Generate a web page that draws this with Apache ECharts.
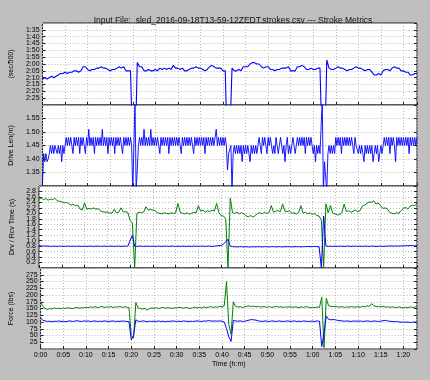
<!DOCTYPE html>
<html><head><meta charset="utf-8">
<script src="https://cdn.jsdelivr.net/npm/echarts@6/dist/echarts.min.js"></script>
<style>html,body{margin:0;padding:0;background:#bfbfbf}#c{width:430px;height:380px}</style>
</head><body><div id="c"></div>
<script>
// time of each sample (minutes)
const times = [
0,0.5,1,1.5,2,2.5,3,3.5,4,4.5, 5,5.5,6,6.5,7,7.5,8,8.5,9,9.5,
10,10.5,11,11.5,12,12.5,13,13.5,14,14.5, 15,15.5,16,16.5,17,17.5,18,18.5,19,19.5,
20,20.5,21,21.5,22,22.5,23,23.5,24,24.5, 25,25.5,26,26.5,27,27.5,28,28.5,29,29.5,
30,30.5,31,31.5,32,32.5,33,33.5,34,34.5, 35,35.5,36,36.5,37,37.5,38,38.5,39,39.5,
40,40.5,41,41.5,42,42.5,43,43.5,44,44.5, 45,45.5,46,46.5,47,47.5,48,48.5,49,49.5,
50,50.5,51,51.5,52,52.5,53,53.5,54,54.5, 55,55.5,56,56.5,57,57.5,58,58.5,59,59.5,
60,60.5,61,61.5,62,62.5,63,63.5,64,64.5, 65,65.5,66,66.5,67,67.5,68,68.5,69,69.5,
70,70.5,71,71.5,72,72.5,73,73.5,74,74.5, 75,75.5,76,76.5,77,77.5,78,78.5,79,79.5,
80,80.5,81,81.5,82,82.5,83];

// finer time grid used for the drive-length trace (minutes)
const timesFine = [
0,0.25,0.5,0.75,1,1.25,1.5,1.75,2,2.25,2.5,2.75,3,3.25,3.5,3.75,4,4.25,4.5,4.75,
5,5.25,5.5,5.75,6,6.25,6.5,6.75,7,7.25,7.5,7.75,8,8.25,8.5,8.75,9,9.25,9.5,9.75,
10,10.25,10.5,10.75,11,11.25,11.5,11.75,12,12.25,12.5,12.75,13,13.25,13.5,13.75,14,14.25,14.5,14.75,
15,15.25,15.5,15.75,16,16.25,16.5,16.75,17,17.25,17.5,17.75,18,18.25,18.5,18.75,19,19.25,19.5,19.75,
20,20.25,20.5,20.75,21,21.25,21.5,21.75,22,22.25,22.5,22.75,23,23.25,23.5,23.75,24,24.25,24.5,24.75,
25,25.25,25.5,25.75,26,26.25,26.5,26.75,27,27.25,27.5,27.75,28,28.25,28.5,28.75,29,29.25,29.5,29.75,
30,30.25,30.5,30.75,31,31.25,31.5,31.75,32,32.25,32.5,32.75,33,33.25,33.5,33.75,34,34.25,34.5,34.75,
35,35.25,35.5,35.75,36,36.25,36.5,36.75,37,37.25,37.5,37.75,38,38.25,38.5,38.75,39,39.25,39.5,39.75,
40,40.25,40.5,40.75,41,41.25,41.5,41.75,42,42.25,42.5,42.75,43,43.25,43.5,43.75,44,44.25,44.5,44.75,
45,45.25,45.5,45.75,46,46.25,46.5,46.75,47,47.25,47.5,47.75,48,48.25,48.5,48.75,49,49.25,49.5,49.75,
50,50.25,50.5,50.75,51,51.25,51.5,51.75,52,52.25,52.5,52.75,53,53.25,53.5,53.75,54,54.25,54.5,54.75,
55,55.25,55.5,55.75,56,56.25,56.5,56.75,57,57.25,57.5,57.75,58,58.25,58.5,58.75,59,59.25,59.5,59.75,
60,60.25,60.5,60.75,61,61.25,61.5,61.75,62,62.25,62.5,62.75,63,63.25,63.5,63.75,64,64.25,64.5,64.75,
65,65.25,65.5,65.75,66,66.25,66.5,66.75,67,67.25,67.5,67.75,68,68.25,68.5,68.75,69,69.25,69.5,69.75,
70,70.25,70.5,70.75,71,71.25,71.5,71.75,72,72.25,72.5,72.75,73,73.25,73.5,73.75,74,74.25,74.5,74.75,
75,75.25,75.5,75.75,76,76.25,76.5,76.75,77,77.25,77.5,77.75,78,78.25,78.5,78.75,79,79.25,79.5,79.75,
80,80.25,80.5,80.75,81,81.25,81.5,81.75,82,82.25,82.5,82.75,83];

// pace, seconds per 500 m
const pace = [
131,130,131,130,129,130,129,128,127,127, 126,127,126,126,125,125,126,125,122,122,
124,125,124,124,123,123,122,123,123,124, 125,124,124,123,122,123,122,125,125,125,
185,190,119,122,122,125,125,124,125,125, 124,125,123,124,123,124,123,124,121,123,
123,124,123,125,125,124,123,123,122,123, 123,124,125,124,122,121,122,123,123,123,
125,125,190,175,123,125,125,124,125,122, 122,122,120,119,119,120,120,122,123,122,
122,124,124,125,124,124,123,123,123,122, 125,125,125,122,122,121,122,124,124,123,
124,124,123,123,185,195,117,123,124,124, 123,122,123,123,124,125,124,124,123,122,
123,123,124,125,124,124,126,128,128,127, 128,125,124,124,125,123,122,123,123,125,
125,126,126,128,128,127,127];

// drive length, m (on timesFine)
const driveLen = [
1.31,1.42,1.39,1.42,1.39,1.40,1.42,1.45,1.42,1.45,1.42,1.45,1.45,1.42,1.45,1.42,1.45,1.39,1.45,1.42,
1.45,1.48,1.45,1.48,1.45,1.48,1.45,1.42,1.48,1.45,1.48,1.45,1.48,1.42,1.48,1.45,1.48,1.45,1.42,1.48,
1.45,1.51,1.45,1.48,1.45,1.48,1.42,1.48,1.45,1.48,1.45,1.48,1.45,1.51,1.45,1.48,1.45,1.48,1.42,1.48,
1.45,1.48,1.45,1.48,1.42,1.48,1.45,1.48,1.45,1.48,1.45,1.42,1.48,1.45,1.48,1.45,1.48,1.45,1.48,1.45,
1.28,1.28,1.62,1.28,1.36,1.45,1.48,1.45,1.48,1.45,1.51,1.45,1.48,1.45,1.48,1.45,1.51,1.45,1.48,1.45,
1.48,1.45,1.48,1.45,1.42,1.48,1.45,1.48,1.45,1.48,1.45,1.48,1.42,1.48,1.45,1.48,1.45,1.48,1.45,1.48,
1.45,1.48,1.45,1.42,1.48,1.45,1.48,1.45,1.48,1.45,1.48,1.45,1.48,1.45,1.42,1.48,1.45,1.48,1.45,1.48,
1.45,1.48,1.45,1.48,1.42,1.48,1.45,1.48,1.45,1.48,1.45,1.48,1.45,1.48,1.51,1.45,1.48,1.45,1.48,1.45,
1.48,1.45,1.48,1.45,1.36,1.42,1.42,1.45,1.28,1.42,1.45,1.42,1.45,1.42,1.45,1.42,1.45,1.39,1.45,1.42,
1.45,1.42,1.45,1.42,1.39,1.45,1.42,1.45,1.42,1.45,1.42,1.45,1.48,1.45,1.42,1.48,1.45,1.48,1.45,1.42,
1.48,1.45,1.48,1.45,1.42,1.45,1.42,1.48,1.45,1.42,1.45,1.48,1.45,1.42,1.45,1.39,1.45,1.48,1.42,1.45,
1.42,1.45,1.48,1.45,1.42,1.45,1.48,1.45,1.48,1.45,1.48,1.45,1.48,1.42,1.48,1.45,1.48,1.45,1.48,1.45,
1.42,1.45,1.39,1.45,1.42,1.45,1.42,1.42,1.62,1.28,1.39,1.39,1.28,1.42,1.45,1.42,1.45,1.42,1.45,1.42,
1.48,1.45,1.48,1.45,1.48,1.42,1.48,1.45,1.48,1.45,1.48,1.45,1.48,1.45,1.48,1.45,1.42,1.48,1.45,1.45,
1.42,1.45,1.42,1.45,1.42,1.39,1.45,1.42,1.45,1.42,1.45,1.42,1.45,1.39,1.42,1.45,1.42,1.45,1.39,1.42,
1.45,1.42,1.45,1.48,1.45,1.48,1.45,1.48,1.42,1.48,1.45,1.48,1.45,1.39,1.48,1.45,1.48,1.45,1.48,1.45,
1.48,1.45,1.48,1.45,1.48,1.42,1.48,1.45,1.48,1.45,1.48,1.45,1.48];

// drive time, s
const driveTime = [
0.82,0.80,0.81,0.80,0.80,0.79,0.80,0.80,0.79,0.80, 0.80,0.79,0.80,0.80,0.79,0.80,0.79,0.80,0.80,0.79,
0.80,0.79,0.80,0.80,0.79,0.80,0.80,0.79,0.80,0.80, 0.79,0.80,0.80,0.79,0.80,0.80,0.79,0.80,0.80,0.80,
1.00,1.20,0.80,0.79,0.80,0.80,0.79,0.80,0.80,0.79, 0.80,0.79,0.80,0.80,0.79,0.80,0.80,0.79,0.80,0.80,
0.79,0.80,0.79,0.80,0.80,0.79,0.80,0.79,0.80,0.80, 0.79,0.80,0.80,0.79,0.80,0.80,0.79,0.80,0.81,0.82,
0.82,0.88,0.95,1.05,0.80,0.78,0.78,0.77,0.78,0.78, 0.77,0.78,0.77,0.77,0.78,0.77,0.78,0.78,0.77,0.78,
0.78,0.77,0.78,0.78,0.77,0.78,0.78,0.77,0.78,0.78, 0.78,0.77,0.78,0.78,0.78,0.77,0.78,0.78,0.79,0.78,
0.78,0.79,0.78,0.78,0.00,1.90,0.80,0.79,0.80,0.79, 0.80,0.79,0.80,0.80,0.79,0.80,0.80,0.79,0.80,0.80,
0.79,0.80,0.79,0.80,0.80,0.79,0.80,0.80,0.79,0.80, 0.80,0.79,0.80,0.80,0.81,0.80,0.80,0.81,0.80,0.81,
0.81,0.82,0.81,0.82,0.82,0.81,0.82];

// recovery time, s
const recoveryTime = [
2.52,2.56,2.50,2.54,2.48,2.52,2.50,2.55,2.46,2.44, 2.42,2.38,2.40,2.36,2.30,2.33,2.28,2.30,2.16,2.12,
2.38,2.15,2.18,2.16,2.20,2.15,2.17,2.08,2.06,2.04, 2.05,2.02,2.00,2.14,2.02,2.04,2.20,2.05,2.06,2.03,
1.75,1.65,0.00,2.00,2.04,2.02,2.05,2.24,2.12,2.14, 2.12,2.10,2.02,2.00,1.98,2.02,2.00,1.98,2.02,2.00,
2.02,2.36,2.04,2.00,1.98,2.02,1.97,2.00,2.04,2.02, 2.28,2.08,2.12,2.04,2.10,2.06,2.12,2.08,2.36,2.02,
1.92,1.90,1.80,0.00,2.55,2.02,2.00,2.04,1.98,2.02, 1.98,1.90,1.88,1.92,1.86,1.92,2.00,2.02,1.98,2.04,
2.00,2.02,2.28,2.04,2.08,2.10,2.06,2.34,2.08,2.06, 2.10,2.00,2.02,1.98,2.02,2.28,2.00,2.04,1.98,2.02,
1.96,2.00,1.92,1.90,1.75,0.00,2.35,2.02,2.28,2.00, 1.98,1.94,1.96,2.02,2.34,2.06,2.10,2.04,2.08,2.12,
2.06,2.10,2.26,2.30,2.36,2.42,2.40,2.46,2.34,2.38, 2.28,2.18,2.20,2.16,2.04,2.00,1.98,2.02,2.00,2.10,
2.18,2.22,2.16,2.26,2.30,2.28,2.36];

// average force, lbs
const avgForce = [
115,106,104,102,103,101,103,102,104,102, 103,101,103,104,102,103,105,103,102,104,
103,104,102,103,104,102,103,102,104,103, 102,103,104,102,103,102,104,103,102,101,
34,50,108,103,102,104,103,101,103,102, 103,102,104,102,103,101,103,102,104,103,
102,103,102,104,103,102,103,102,103,104, 103,102,104,103,105,104,103,104,103,104,
103,100,75,45,28,106,104,103,104,102, 103,105,107,109,108,107,104,103,102,104,
103,102,104,103,102,104,103,102,103,104, 102,103,104,102,103,102,104,103,102,103,
103,102,104,103,9,60,122,110,108,109, 108,106,105,104,103,104,103,102,104,103,
103,104,102,103,104,103,102,104,103,102, 103,105,106,104,103,102,101,102,100,99,
100,99,100,98,99,100,99];

// peak force, lbs
const peakForce = [
175,158,150,147,150,148,152,150,151,149, 152,150,153,151,150,152,154,151,153,152,
155,153,156,154,157,153,155,158,154,156, 155,157,154,156,155,158,154,156,155,153,
50,40,172,152,150,148,151,144,150,152, 151,153,150,152,154,151,153,152,150,153,
152,155,153,151,154,152,150,153,155,152, 154,152,156,153,155,157,154,156,155,158,
156,160,250,90,55,175,158,155,157,154, 156,158,160,157,159,156,158,155,157,156,
155,157,154,156,158,155,157,154,156,155, 157,154,156,155,153,156,154,157,155,153,
155,153,156,154,192,5,188,160,158,157, 158,156,155,157,154,156,155,157,156,155,
157,155,158,156,160,158,168,160,157,158, 156,158,155,157,154,156,155,153,156,154,
152,155,153,156,154,155,157];

const timeTickLabels = ['0:00','0:05','0:10','0:15','0:20','0:25','0:30','0:35','0:40','0:45','0:50','0:55','1:00','1:05','1:10','1:15','1:20'];
const paceTickLabels = ['1:30','1:35','1:40','1:45','1:50','1:55','2:00','2:05','2:10','2:15','2:20','2:25','2:30'];

const FONT = 'Liberation Sans';
const grids = [
  {top: 23, height: 82},
  {top: 105, height: 81},
  {top: 186, height: 82},
  {top: 268, height: 81}
].map(g => Object.assign({left: 39, width: 378, show: true, backgroundColor: '#fff', borderColor: '#222', borderWidth: 1, containLabel: false}, g));

const gridLine = {show: true, lineStyle: {color: '#b8b8b8', type: [1, 2], width: 1}};
const tick = {show: true, inside: true, length: 3, lineStyle: {color: '#222'}};

const xAxes = grids.map((g, i) => ({
  type: 'value', gridIndex: i, min: 0, max: 83, interval: 5,
  axisLine: {show: false}, axisTick: tick, splitLine: gridLine,
  axisLabel: {show: i === 3, fontFamily: FONT, fontSize: 7, color: '#000', margin: 3, showMaxLabel: false,
    formatter: v => timeTickLabels[Math.round(v / 5)] || ''},
  name: i === 3 ? 'Time (h:m)' : '', nameLocation: 'middle', nameGap: 12,
  nameTextStyle: {fontFamily: FONT, fontSize: 7, color: '#000'}
}));

function yAx(i, opts, fmt, name) {
  return Object.assign({
    type: 'value', gridIndex: i, axisLine: {show: false}, axisTick: tick, splitLine: gridLine,
    axisLabel: {fontFamily: FONT, fontSize: 7, color: '#000', margin: 3, showMinLabel: false, showMaxLabel: false, formatter: fmt},
    name: name, nameLocation: 'middle', nameRotate: 90, nameGap: 19,
    nameTextStyle: {fontFamily: FONT, fontSize: 7, color: '#000'}
  }, opts);
}
function yRight(i, opts) {
  return Object.assign({type: 'value', gridIndex: i, position: 'right', axisLine: {show: false},
    axisTick: tick, splitLine: {show: false}, axisLabel: {show: false}}, opts);
}
const pOpts = {min: 90, max: 150, interval: 5, inverse: true};
const dOpts = {min: 1.30, max: 1.60, interval: 0.05};
const tOpts = {min: 0, max: 3.0, interval: 0.2};
const fOpts = {min: 0, max: 300, interval: 25};
const yAxes = [
  yAx(0, pOpts, v => paceTickLabels[Math.round((v - 90) / 5)] || '', '(sec/500)'),
  yAx(1, dOpts, v => v.toFixed(2), 'Drive Len(m)'),
  yAx(2, tOpts, v => v.toFixed(1), 'Drv / Rcv Time (s)'),
  yAx(3, fOpts, v => String(Math.round(v)), 'Force (lbs)'),
  yRight(0, pOpts), yRight(1, dOpts), yRight(2, tOpts), yRight(3, fOpts)
];

const pair = (ts, arr) => ts.map((t, i) => [t, arr[i]]);
const BLUE = '#0000ff', GREEN = '#008000';
function line(idx, ts, arr, color, width) {
  return {type: 'line', xAxisIndex: idx, yAxisIndex: idx, data: pair(ts, arr), showSymbol: false, symbol: 'none',
    clip: true, animation: false, lineStyle: {color: color, width: width || 1}, itemStyle: {color: color}};
}

const chart = echarts.init(document.getElementById('c'), null, {renderer: 'canvas'});
chart.setOption({
  backgroundColor: '#bfbfbf',
  animation: false,
  title: {text: 'Input File:  sled_2016-09-18T13-59-12ZEDT.strokes.csv --- Stroke Metrics', left: 228, textAlign: 'center', top: 11,
    textStyle: {fontFamily: FONT, fontSize: 8.5, fontWeight: 'normal', color: '#111'}},
  grid: grids,
  xAxis: xAxes,
  yAxis: yAxes,
  series: [
    line(0, times, pace, BLUE, 1.1),
    line(1, timesFine, driveLen, BLUE, 0.9),
    line(2, times, recoveryTime, GREEN),
    line(2, times, driveTime, BLUE),
    line(3, times, peakForce, GREEN),
    line(3, times, avgForce, BLUE)
  ]
});
</script></body></html>
